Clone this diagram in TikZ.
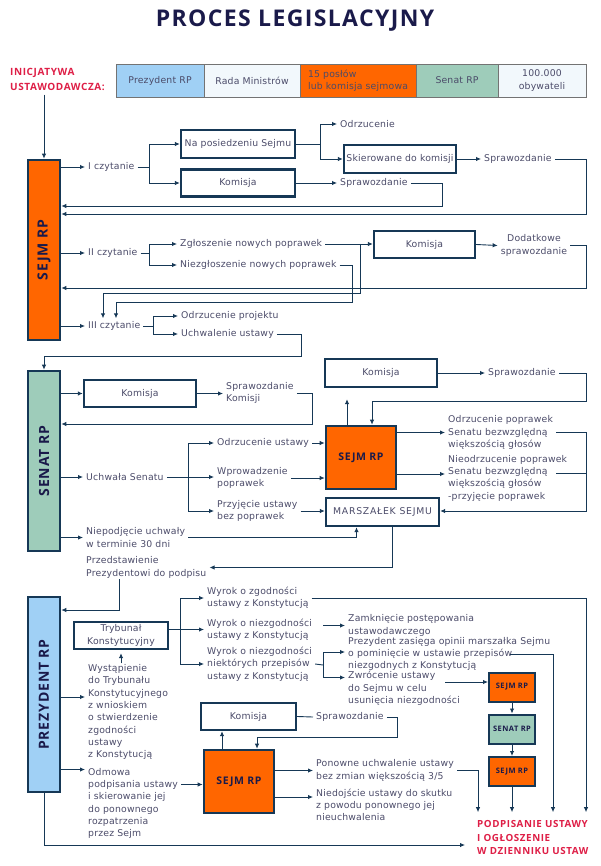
\documentclass[tikz,border=0pt]{standalone}
\usepackage{fontspec}
\usepackage{graphicx}
\usetikzlibrary{arrows.meta,positioning}

\newfontfamily\txtfont{DejaVu Sans}[LetterSpace=2]
\newfontfamily\headfont{Open Sans}[LetterSpace=6]
\newcommand\txtsz{\txtfont\fontsize{9.3pt}{12.3pt}\selectfont}
\newcommand\redsz{\headfont\bfseries\fontsize{10pt}{14.5pt}\selectfont}

\definecolor{navy}{RGB}{22,56,86}
\definecolor{txtgray}{RGB}{75,75,105}
\definecolor{inkblue}{RGB}{26,26,74}
\definecolor{redlbl}{RGB}{222,30,70}
\definecolor{sejmor}{RGB}{255,102,0}
\definecolor{senatgr}{RGB}{158,204,186}
\definecolor{prezbl}{RGB}{160,208,245}
\definecolor{pale}{RGB}{242,248,252}

\begin{document}
\begin{tikzpicture}[x=1pt,y=-1pt,
  arr/.style={-{Latex[length=5pt,width=4.5pt]},draw=navy,line width=0.9pt},
  ln/.style={draw=navy,line width=0.9pt},
  lbl/.style={anchor=west,inner xsep=3pt,inner ysep=1pt,align=left,font=\txtsz,text=txtgray},
  frame/.style={draw=navy,line width=2.4pt,fill=white,inner sep=0pt,align=center,font=\txtsz,text=txtgray},
  side/.style={draw=navy,line width=2.6pt,inner sep=0pt,minimum width=32pt,font=\headfont\bfseries\fontsize{14pt}{14pt}\selectfont,text=inkblue},
  sejmbox/.style={draw=navy,line width=2.6pt,fill=sejmor,inner sep=0pt,text=inkblue},
  smallbox/.style={draw=navy,line width=2pt,inner sep=0pt,minimum width=46pt,minimum height=29pt,font=\headfont\bfseries\fontsize{7.5pt}{8pt}\selectfont,text=inkblue},
  cell/.style={draw=black!55,line width=0.8pt,minimum height=33pt,inner sep=0pt,align=center,font=\txtsz,text=txtgray}]

\useasboundingbox (0,0) rectangle (600,866);

% naglowek
\node[font=\headfont\bfseries\fontsize{23pt}{26pt}\selectfont,text=inkblue] (title) at (295,21) {PROCES LEGISLACYJNY};
\node[anchor=west,inner sep=0pt,align=left,font=\redsz,text=redlbl] (inic) at (10,79.5) {INICJATYWA\\USTAWODAWCZA:};
\node[cell,fill=prezbl,minimum width=88pt] (c1) at (160,80.5) {Prezydent RP};
\node[cell,fill=pale,minimum width=96pt] (c2) at (252,80.5) {Rada Ministrów};
\node[cell,fill=sejmor,minimum width=116pt,align=left] (c3) at (358,80.5) {15 posłów\\lub komisja sejmowa};
\node[cell,fill=senatgr,minimum width=82pt] (c4) at (457,80.5) {Senat RP};
\node[cell,fill=pale,minimum width=88pt] (c5) at (542,80.5) {100.000\\obywateli};

\node[side,fill=sejmor,minimum height=180pt] (sejm) at (44,250) {\rotatebox{90}{SEJM RP}};
\node[side,fill=senatgr,minimum height=180pt] (senat) at (44,461) {\rotatebox{90}{SENAT RP}};
\node[side,fill=prezbl,minimum height=195pt] (prez) at (44,694.5) {\rotatebox{90}{PREZYDENT RP}};

\draw[arr] ([yshift=-4pt]inic.south -| sejm.north) -- (sejm.north);

% I czytanie
\node[lbl] (czyt1) at (85,167) {I czytanie};
\node[frame,minimum width=114pt,minimum height=28pt] (posiedz) at (238,144) {Na posiedzeniu Sejmu};
\node[frame,minimum width=114pt,minimum height=27pt] (kom1) at (238,183) {Komisja};
\node[lbl] (odrz1) at (337,124) {Odrzucenie};
\node[frame,minimum width=112pt,minimum height=28pt] (skier) at (400,159) {Skierowane do komisji};
\node[lbl] (spr1) at (481,159) {Sprawozdanie};
\node[lbl] (spr2) at (337,183) {Sprawozdanie};
\coordinate (b1) at (149,167);
\coordinate (b2) at (320,144);
\coordinate (r1) at (586,214);
\coordinate (r2) at (442,206);

\draw[arr] (sejm.east |- czyt1.west) -- (czyt1.west);
\draw[ln] (czyt1.east) -- (b1);
\draw[arr] (b1) |- (posiedz.west);
\draw[arr] (b1) |- (kom1.west);
\draw[ln] (posiedz.east) -- (b2);
\draw[arr] (b2) |- (odrz1.west);
\draw[arr] (b2) |- (skier.west);
\draw[arr] (skier.east) -- (spr1.west);
\draw[arr] (kom1.east) -- (spr2.west);
\draw[arr] (spr1.east) -| (r1) -- (r1 -| sejm.east);
\draw[arr] (spr2.east) -| (r2) -- (r2 -| sejm.east);

% II i III czytanie
\node[lbl] (czyt2) at (85,253) {II czytanie};
\node[lbl] (zglo) at (177,244) {Zgłoszenie nowych poprawek};
\node[lbl] (niezglo) at (177,265) {Niezgłoszenie nowych poprawek};
\node[frame,minimum width=101pt,minimum height=27pt] (kom2) at (424.5,244.5) {Komisja};
\node[lbl,anchor=center,align=center] (dodat) at (534,245.5) {Dodatkowe\\sprawozdanie};
\node[lbl] (czyt3) at (85,326) {III czytanie};
\node[lbl] (odrzp) at (178,316) {Odrzucenie projektu};
\node[lbl] (uchw) at (178,334) {Uchwalenie ustawy};
\coordinate (b3) at (149,253);
\coordinate (e1) at (360,293);
\coordinate (d1) at (103,293);
\coordinate (e2) at (352,302);
\coordinate (d2) at (116,302);
\coordinate (r3) at (586,288);
\coordinate (b4) at (153,326);
\coordinate (r4) at (301,356);

\draw[arr] (sejm.east |- czyt2.west) -- (czyt2.west);
\draw[ln] (czyt2.east) -- (b3);
\draw[arr] (b3) |- (zglo.west);
\draw[arr] (b3) |- (niezglo.west);
\draw[arr] (zglo.east) -- (zglo.east -| kom2.west);
\draw[arr] (kom2.east) -- (dodat.west);
\draw[arr] (dodat.east) -| (r3) -- (r3 -| sejm.east);
\draw[arr,shorten >=2pt] (zglo.east -| e1) -- (e1) -- (d1) -- (d1 |- czyt3.north);
\draw[arr,shorten >=2pt] (niezglo.east) -| (e2) -- (d2) -- (d2 |- czyt3.north);
\draw[arr] (sejm.east |- czyt3.west) -- (czyt3.west);
\draw[ln] (czyt3.east) -- (b4);
\draw[arr] (b4) |- (odrzp.west);
\draw[arr] (b4) |- (uchw.west);
\draw[arr] (uchw.east) -| (r4) -- (r4 -| senat.north) -- (senat.north);

% Senat
\node[frame,minimum width=112pt,minimum height=27pt] (kom3) at (140,393.5) {Komisja};
\node[lbl] (sprk) at (223,393) {Sprawozdanie\\Komisji};
\node[lbl] (uchws) at (83,477) {Uchwała Senatu};
\node[lbl] (odrzu) at (214,443) {Odrzucenie ustawy};
\node[lbl] (wprow) at (214,478) {Wprowadzenie\\poprawek};
\node[lbl] (przyj) at (214,511) {Przyjęcie ustawy\\bez poprawek};
\node[sejmbox,minimum width=70pt,minimum height=63pt,font=\headfont\bfseries\fontsize{10.5pt}{12pt}\selectfont] (sejm2) at (361,457.5) {SEJM RP};
\node[frame,minimum width=113pt,minimum height=28pt] (marsz) at (382.5,512) {\addfontfeatures{LetterSpace=8}MARSZAŁEK SEJMU};
\node[frame,minimum width=112pt,minimum height=28pt] (kom4) at (381,373) {Komisja};
\node[lbl] (sprs) at (485,373) {Sprawozdanie};
\node[lbl] (odrzpop) at (445,432.5) {Odrzucenie poprawek\\Senatu bezwzględną\\większością głosów};
\node[lbl] (nieodrz) at (445,478) {Nieodrzucenie poprawek\\Senatu bezwzględną\\większością głosów\\-przyjęcie poprawek};
\node[lbl] (niep) at (83,537.5) {Niepodjęcie uchwały\\w terminie 30 dni};
\node[lbl] (przed) at (83,567.5) {Przedstawienie\\Prezydentowi do podpisu};
\coordinate (r5) at (312,424);
\coordinate (b5) at (188,477);
\coordinate (r6) at (586,401);
\coordinate (r6b) at (372,401);
\coordinate (r7) at (586,511);
\coordinate (r8) at (119,610);

\draw[arr] (senat.east |- kom3.west) -- (kom3.west);
\draw[arr] (kom3.east) -- (kom3.east -| sprk.west);
\draw[arr] (sprk.east) -| (r5) -- (r5 -| senat.east);
\draw[arr] (senat.east |- uchws.west) -- (uchws.west);
\draw[arr] (uchws.east) -- (uchws.east -| wprow.west);
\draw[arr] (b5) |- (odrzu.west);
\draw[arr] (b5) |- (przyj.west);
\draw[arr] (odrzu.east) -- (odrzu.east -| sejm2.west);
\draw[arr] (wprow.east) -- (wprow.east -| sejm2.west);
\draw[arr] (przyj.east) -- (przyj.east -| marsz.west);
\draw[arr,shorten >=11pt] ([xshift=-14pt]sejm2.north) -- ([xshift=-14pt]sejm2.north |- kom4.south);
\draw[arr] (kom4.east) -- (sprs.west);
\draw[arr] (sprs.east) -| (r6) -- (r6b) -- (r6b |- sejm2.north);
\draw[arr] (sejm2.east |- odrzpop.west) -- (odrzpop.west);
\draw[arr] ([yshift=4pt]sejm2.east |- nieodrz.west) -- ([yshift=4pt]nieodrz.west);
\draw[arr] (odrzpop.east) -| (r7) -- (r7 -| marsz.east);
\draw[ln] ([yshift=5pt]odrzpop.east |- nieodrz.east) -| (r7);
\draw[arr] (senat.east |- niep.west) -- (niep.west);
\draw[arr] (niep.east) -| ([xshift=-26pt]marsz.south);
\draw[arr] ([xshift=10pt]marsz.south) |- (przed.east);
\draw[arr] (r8 |- przed.south) -- (r8) -- (r8 -| prez.east);

% Prezydent
\node[frame,minimum width=94pt,minimum height=27pt] (tryb) at (121,635.5) {Trybunał\\Konstytucyjny};
\node[lbl] (wyst) at (85,712) {Wystąpienie\\do Trybunału\\Konstytucyjnego\\z wnioskiem\\o stwierdzenie\\zgodności\\ustawy\\z Konstytucją};
\node[lbl] (wyr1) at (204,598) {Wyrok o zgodności\\ustawy z Konstytucją};
\node[lbl] (wyr2) at (204,629.5) {Wyrok o niezgodności\\ustawy z Konstytucją};
\node[lbl] (wyr3) at (204,664) {Wyrok o niezgodności\\niektórych przepisów\\ustawy z Konstytucją};
\node[lbl] (zamk) at (345,625.5) {Zamknięcie postępowania\\ustawodawczego};
\node[lbl] (prezz) at (345,654) {Prezydent zasięga opinii marszałka Sejmu\\o pominięcie w ustawie przepisów\\niezgodnych z Konstytucją};
\node[lbl] (zwroc) at (345,688.5) {Zwrócenie ustawy\\do Sejmu w celu\\usunięcia niezgodności};
\node[smallbox,fill=sejmor] (sm1) at (512,687) {SEJM RP};
\node[smallbox,fill=senatgr] (sm2) at (512,729) {SENAT RP};
\node[smallbox,fill=sejmor] (sm3) at (512,771.5) {SEJM RP};
\node[frame,minimum width=95pt,minimum height=27pt] (kom5) at (248.5,716.5) {Komisja};
\node[sejmbox,minimum width=70pt,minimum height=63pt,font=\headfont\bfseries\fontsize{10.5pt}{12pt}\selectfont] (sejm4) at (239,781.5) {SEJM RP};
\node[lbl] (spr5) at (313,717) {Sprawozdanie};
\node[lbl] (odm) at (85,803.5) {Odmowa\\podpisania ustawy\\i skierowanie jej\\do ponownego\\rozpatrzenia\\przez Sejm};
\node[lbl] (ponow) at (313,770.5) {Ponowne uchwalenie ustawy\\bez zmian większością 3/5};
\node[lbl] (niedo) at (313,805) {Niedojście ustawy do skutku\\z powodu ponownego jej\\nieuchwalenia};
\node[anchor=west,inner sep=0pt,align=left,font=\headfont\bfseries\fontsize{9.8pt}{13.5pt}\selectfont,text=redlbl] (podp) at (477,837.5) {PODPISANIE USTAWY\\I OGŁOSZENIE\\W DZIENNIKU USTAW};
\coordinate (ptop) at ([yshift=8pt]podp.north);
\coordinate (b6) at (180,629);
\coordinate (b7) at (323,665);
\coordinate (r9) at (586,596);
\coordinate (r10) at (397,737);
\coordinate (r11) at (553,654);
\coordinate (w1) at ([yshift=15pt]wyst.west);
\coordinate (o1) at ([yshift=34pt]odm.west);
\coordinate (z1) at ([yshift=5pt]sm1.west);
\coordinate (s4) at ([yshift=-3pt]sejm4.west);

\draw[arr,shorten >=3pt] (tryb.south |- wyst.north) -- (tryb.south);
\draw[arr] (prez.east |- w1) -- (w1);
\draw[arr] ([yshift=6pt]tryb.east) -- ([yshift=6pt]tryb.east -| wyr2.west);
\draw[arr] (b6) |- (wyr1.west);
\draw[arr] (b6) |- (wyr3.west);
\draw[arr] (wyr1.east) -| (r9 |- ptop);
\draw[arr,shorten <=8pt] (wyr2.east |- zamk.west) -- (zamk.west);
\draw[ln] (wyr3.east) -- (b7);
\draw[arr] (b7) |- ([yshift=2pt]prezz.west);
\draw[arr] (b7) |- ([yshift=11pt]zwroc.west);
\draw[arr] ([xshift=-43pt]r11) -- (r11) -- (r11 |- ptop);
\draw[arr] ([xshift=-18pt]zwroc.east |- z1) -- (z1);
\draw[arr] (sm1) -- (sm2);
\draw[arr] (sm2) -- (sm3);
\draw[arr] (sm3.south) -- (sm3.south |- ptop);
\draw[arr] (prez.east |- o1) -- (o1);
\draw[arr] (odm.east |- s4) -- (s4);
\draw[arr] ([xshift=-17pt]sejm4.north) -- ([xshift=-17pt]sejm4.north |- kom5.south);
\draw[ln] (kom5.east) -- (spr5.west);
\draw[arr] (spr5.east) -| (r10) -| ([xshift=18pt]sejm4.north);
\draw[arr] (sejm4.east |- ponow.west) -- (ponow.west);
\draw[arr] ([yshift=8pt]sejm4.east |- niedo.west) -- ([yshift=8pt]niedo.west);
\draw[arr] (ponow.east) -| ([xshift=1pt]podp.west |- ptop);
\draw[arr,shorten >=12pt] (prez.south) |- ([yshift=-7.5pt]podp.west);
\end{tikzpicture}
\end{document}
